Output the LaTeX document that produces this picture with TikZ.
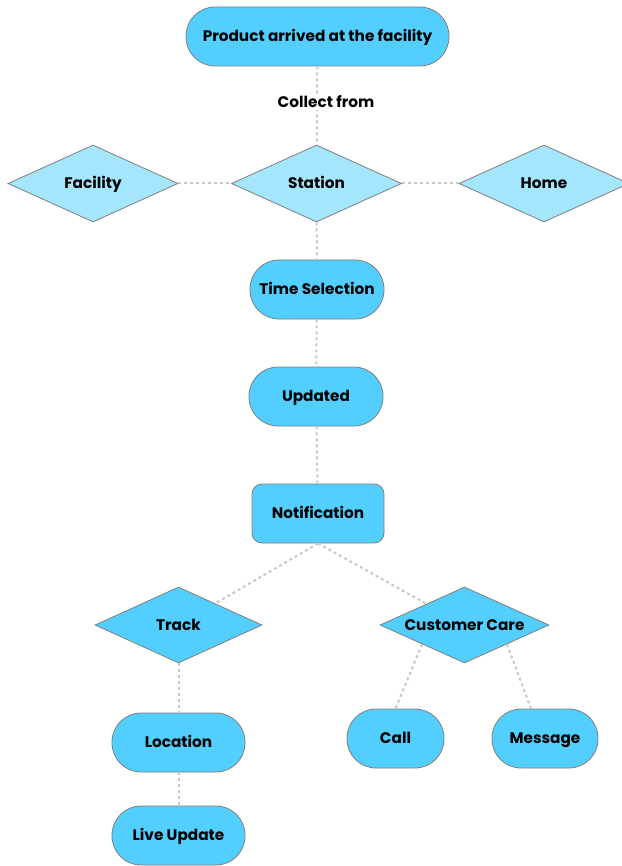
\documentclass[tikz,border=0pt]{standalone}
\usepackage{fontspec}
\setmainfont{Poppins}
\usetikzlibrary{shapes.geometric}
\definecolor{bright}{HTML}{52CFFF}
\definecolor{light}{HTML}{A3E6FD}
\definecolor{rim}{HTML}{7F7F7F}
\definecolor{link}{HTML}{C8C8C8}
\newcommand{\zw}[1]{\makebox[0pt]{#1}}
\tikzset{
  base/.style={draw=rim, line width=0.8pt, font=\fontsize{15.3}{17}\selectfont\bfseries, text=black, inner sep=0pt, text height=10.5pt, text depth=0pt},
  pill/.style={base, rectangle, rounded corners=29pt, fill=bright, minimum height=59pt},
  boxr/.style={base, rectangle, rounded corners=10pt, fill=bright, minimum height=59pt},
  dia/.style={base, diamond, fill=bright, minimum height=76pt},
  ldia/.style={dia, fill=light, minimum height=77pt, minimum width=170pt},
  conn/.style={draw=link, line width=2pt, dash pattern=on 3pt off 3pt}
}
\begin{document}
\begin{tikzpicture}[x=1pt,y=-1pt]
\useasboundingbox (0,0) rectangle (621,866);
\node[pill, minimum width=263pt] (top) at (317.5,36.5) {Product arrived at the facility};
\node[ldia] (station) at (316.5,183.5) {\zw{Station}};
\node[ldia] (facility) at (93,183.5) {\zw{Facility}};
\node[ldia] (home) at (544,183.5) {\zw{Home}};
\node[pill, minimum width=134pt] (timesel) at (317,289.5) {Time Selection};
\node[pill, minimum width=134pt] (updated) at (316,396.5) {Updated};
\node[boxr, minimum width=132pt] (notif) at (318,513.5) {Notification};
\node[dia, minimum width=167pt] (track) at (178.5,625) {\zw{Track}};
\node[dia, minimum width=169pt] (care) at (464.5,625) {\zw{Customer Care}};
\node[pill, minimum width=133pt] (location) at (178.5,742.5) {Location};
\node[pill, minimum width=133pt] (live) at (178.5,835.5) {Live Update};
\node[pill, minimum width=97pt] (call) at (395.5,738.5) {Call};
\node[pill, minimum width=106pt] (message) at (545,738.5) {Message};
\draw[conn] (top) -- (station);
\node[fill=white, inner sep=2pt, font=\fontsize{15.3}{17}\selectfont\bfseries] (collect) at (326,102) {Collect from};
\draw[conn] (facility) -- (station);
\draw[conn] (station) -- (home);
\draw[conn] (station) -- (timesel);
\draw[conn] (timesel) -- (updated);
\draw[conn] (updated) -- (notif);
\draw[conn] (notif.south) -- (track);
\draw[conn] (notif.south) -- (care);
\draw[conn] (track) -- (location);
\draw[conn] (location) -- (live);
\draw[conn] (care.south west) -- (call.north);
\draw[conn] (care.south east) -- ([xshift=-14pt]message.north);
\end{tikzpicture}
\end{document}
